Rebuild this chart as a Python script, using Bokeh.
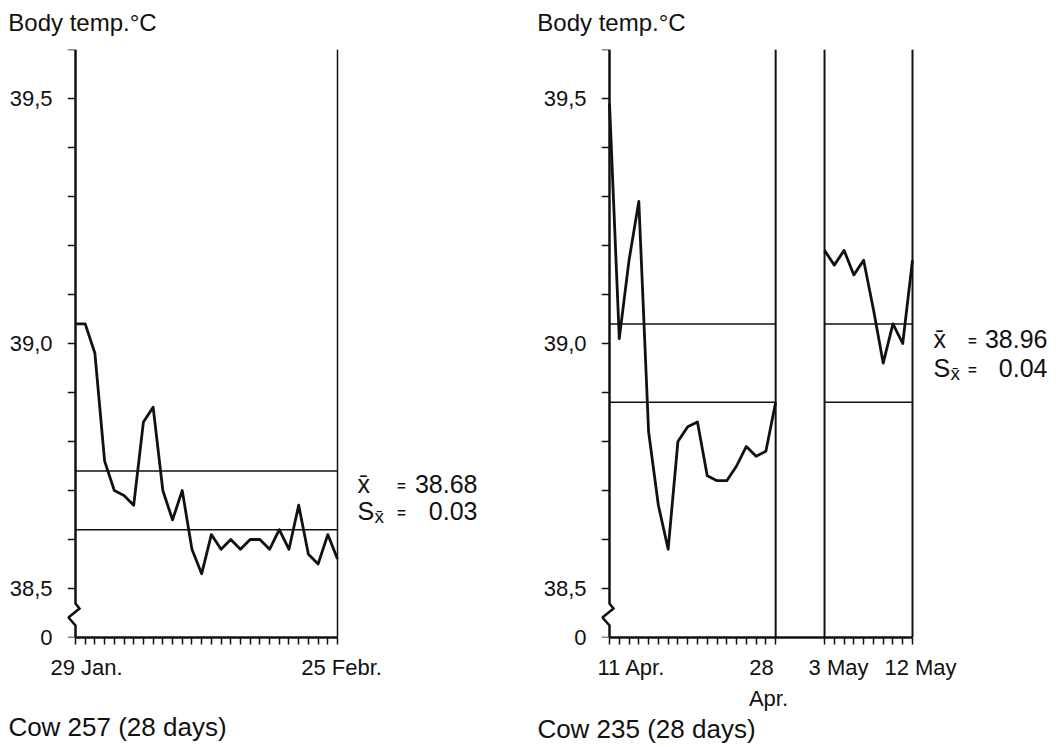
from bokeh.plotting import figure
from bokeh.models import FixedTicker, Span, LinearAxis
from bokeh.core.properties import value
from bokeh.layouts import row
from bokeh.embed import file_html
from bokeh.resources import INLINE

FONT = "Liberation Sans"
INK = "#111111"

# ---------------- data ----------------
# y axis (broken: "0" at the bottom, then 38,5 ... 39,6)
y_ticks = [38.4, 38.5, 38.6, 38.7, 38.8, 38.9, 39.0, 39.1, 39.2, 39.3, 39.4, 39.5, 39.6]
y_tick_labels = {38.4: "0", 38.5: "38,5", 39.0: "39,0", 39.5: "39,5"}

# Cow 257: 29 Jan (day 0) ... 25 Febr (day 27)
left_days = list(range(28))
left_temp = [39.04, 39.04, 38.98, 38.76, 38.70, 38.69, 38.67, 38.84, 38.87, 38.70,
             38.64, 38.70, 38.58, 38.53, 38.61, 38.58, 38.60, 38.58, 38.60, 38.60,
             38.58, 38.62, 38.58, 38.67, 38.57, 38.55, 38.61, 38.56]
left_band = [38.62, 38.74]
left_mean = "38.68"
left_se = "0.03"
left_xlabels = ["29 Jan.", "25 Febr."]
left_caption = "Cow 257 (28 days)"

# Cow 235: 11 Apr (day 0) ... 28 Apr (day 17); 3 May (day 22) ... 12 May (day 31)
right_days_a = list(range(0, 18))
right_temp_a = [39.49, 39.01, 39.17, 39.29, 38.82, 38.67, 38.58, 38.80, 38.83, 38.84,
                38.73, 38.72, 38.72, 38.75, 38.79, 38.77, 38.78, 38.88]
right_days_b = list(range(22, 32))
right_temp_b = [39.19, 39.16, 39.19, 39.14, 39.17, 39.07, 38.96, 39.04, 39.00, 39.17]
right_band = [38.88, 39.04]
right_mean = "38.96"
right_se = "0.04"
right_xlabels = ["11 Apr.", "28", "3 May", "12 May"]
right_xlabels2 = ["Apr."]
right_caption = "Cow 235 (28 days)"

HEADER = "Body temp.\u00b0C"

# ---------------- layout (pixels) ----------------
H = 746
TOP = 49
FRAME_H = 588
BOTTOM = H - TOP - FRAME_H
EXT = 8                      # frame starts this many px left of the y axis
PX_PER_VAL = FRAME_H / (y_ticks[-1] - y_ticks[0])
FRAME_BOTTOM_PX = TOP + FRAME_H


def val_at(py):
    return y_ticks[0] + (FRAME_BOTTOM_PX - py) / PX_PER_VAL


def text_axis(p, side, pos, texts, size, standoff):
    ax = LinearAxis(ticker=FixedTicker(ticks=pos, minor_ticks=[]),
                    major_label_overrides=dict(zip(pos, texts)),
                    axis_line_color=None, major_tick_line_color=None,
                    major_tick_out=0, major_tick_in=0, minor_tick_out=0, minor_tick_in=0,
                    major_label_standoff=standoff, major_label_text_font=FONT,
                    major_label_text_font_size=size, major_label_text_color=INK)
    p.add_layout(ax, side)
    return ax


def panel(fig_x0, fig_w, axis_px, px_per_day, tick_days, last_day,
          label_px, labels, label2_px, labels2, title_px, caption, cap_standoff):
    ml = axis_px - fig_x0 - EXT
    mr = 3
    frame_w = fig_w - ml - mr
    x0 = -EXT / px_per_day
    x1 = x0 + frame_w / px_per_day
    p = figure(width=fig_w, height=H, x_range=(x0, x1), y_range=(y_ticks[0], y_ticks[-1]),
               x_axis_location=None, y_axis_location=None,
               output_backend="svg", toolbar_location=None,
               min_border_left=ml, min_border_right=mr,
               min_border_top=TOP, min_border_bottom=BOTTOM)
    p.outline_line_color = None
    p.grid.visible = False
    p.background_fill_color = "white"
    p.border_fill_color = "white"

    day = lambda px: (px - axis_px) / px_per_day

    # y axis: tick marks at the axis position
    ytk = LinearAxis(ticker=FixedTicker(ticks=[], minor_ticks=y_ticks),
                     fixed_location=0, axis_line_color=None,
                     major_tick_out=0, major_tick_in=0, minor_tick_out=8, minor_tick_in=0,
                     minor_tick_line_width=1.5, minor_tick_line_color=INK)
    p.add_layout(ytk, "left")
    # y axis: tick labels
    ylab = LinearAxis(ticker=FixedTicker(ticks=y_ticks, minor_ticks=[]),
                      major_label_overrides={t: y_tick_labels.get(t, "") for t in y_ticks},
                      axis_line_color=None, major_tick_line_color=None,
                      major_tick_out=0, major_tick_in=0, minor_tick_out=0,
                      major_label_standoff=15, major_label_text_font=FONT,
                      major_label_text_font_size="22px", major_label_text_color=INK)
    p.add_layout(ylab, "left")

    # x axis: line + day ticks
    xax = LinearAxis(ticker=FixedTicker(ticks=[], minor_ticks=tick_days),
                     bounds=(0, last_day), axis_line_width=2.5, axis_line_color=INK,
                     major_tick_out=0, major_tick_in=0, minor_tick_out=7, minor_tick_in=0,
                     minor_tick_line_width=1.5, minor_tick_line_color=INK)
    p.add_layout(xax, "below")
    # x axis: date labels (first line, optional second line)
    text_axis(p, "below", [day(px) for px in label_px], labels, "22px", 10)
    if labels2:
        text_axis(p, "below", [day(px) for px in label2_px], labels2, "22px", 3)
    # caption below, header above
    text_axis(p, "below", [day(title_px[1])], [caption], "26px", cap_standoff)
    text_axis(p, "above", [day(title_px[0])], [HEADER], "24px", 14)

    # y axis line with zig-zag break
    zx = [0, 0, day(axis_px + 4), day(axis_px - 7), 0, 0]
    zy = [y_ticks[-1], val_at(603), val_at(608), val_at(617), val_at(625), y_ticks[0]]
    p.line(zx, zy, line_width=2.5, line_color=INK, line_join="miter")
    return p, day


def stats(p, day, mean, se, x_left, x_eq, x_right, py1, py2):
    f = value(FONT)
    p.text(x=[day(x_left), day(x_left)], y=[val_at(py1), val_at(py2)], text=["x\u0304", "S"],
           text_font=f, text_font_size="25px", text_color=INK,
           text_align=value("left"), text_baseline=value("middle"))
    p.text(x=[day(x_left + 17)], y=[val_at(py2 + 6)], text=["x\u0304"],
           text_font=f, text_font_size="19px", text_color=INK,
           text_align=value("left"), text_baseline=value("middle"))
    p.text(x=[day(x_eq), day(x_eq)], y=[val_at(py1 + 2), val_at(py2 + 2)], text=["=", "="],
           text_font=f, text_font_size="15px", text_font_style="bold", text_color=INK,
           text_align=value("center"), text_baseline=value("middle"))
    p.text(x=[day(x_right), day(x_right)], y=[val_at(py1), val_at(py2)], text=[mean, se],
           text_font=f, text_font_size="25px", text_color=INK,
           text_align=value("right"), text_baseline=value("middle"))


# ---------- left panel ----------
p1, d1 = panel(0, 530, 75, 262 / 27, left_days, left_days[-1],
               [86, 341], left_xlabels, [], [], (82, 117), left_caption, 29)
p1.segment(x0=[left_days[0]] * 2, x1=[left_days[-1]] * 2, y0=left_band, y1=left_band,
           line_width=1.5, line_color=INK)
p1.line(left_days, left_temp, line_width=2.8, line_color=INK, line_join="round")
p1.add_layout(Span(location=left_days[-1], dimension="height", line_width=1.5, line_color=INK))
stats(p1, d1, left_mean, left_se, 357, 401, 477, 483, 510)

# ---------- right panel ----------
right_ticks = right_days_a + right_days_b
p2, d2 = panel(530, 530, 609, 303 / 31, right_ticks, right_days_b[-1],
               [631, 761, 838, 920], right_xlabels, [768], right_xlabels2,
               (611, 646), right_caption, 0)
seg_x0, seg_x1, seg_y = [], [], []
for v in right_band:
    for days in (right_days_a, right_days_b):
        seg_x0.append(days[0])
        seg_x1.append(days[-1])
        seg_y.append(v)
p2.segment(x0=seg_x0, x1=seg_x1, y0=seg_y, y1=seg_y, line_width=1.5, line_color=INK)
p2.line(right_days_a, right_temp_a, line_width=2.8, line_color=INK, line_join="round")
p2.line(right_days_b, right_temp_b, line_width=2.8, line_color=INK, line_join="round")
for loc in (right_days_a[-1], right_days_b[0], right_days_b[-1]):
    p2.add_layout(Span(location=loc, dimension="height", line_width=2, line_color=INK))
stats(p2, d2, right_mean, right_se, 933, 972, 1047, 338, 367)

layout = row(p1, p2)
open("out.html", "w").write(file_html(layout, INLINE))
